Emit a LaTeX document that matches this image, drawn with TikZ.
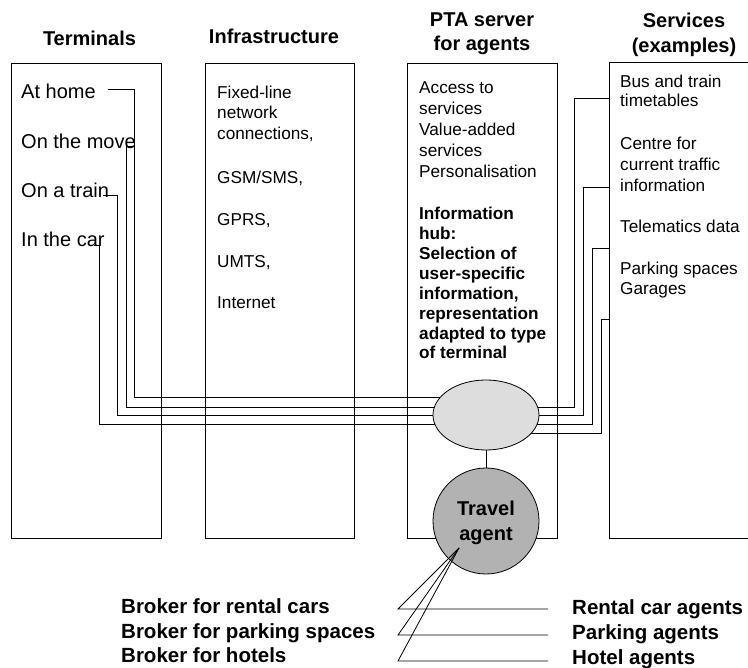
\documentclass[tikz,border=0pt]{standalone}
\usepackage{fontspec}
\setmainfont{Liberation Sans}
\usetikzlibrary{shapes.geometric,backgrounds}
\definecolor{hubgray}{RGB}{221,221,221}
\definecolor{agentgray}{RGB}{178,178,178}
\begin{document}
\begin{tikzpicture}[x=1pt,y=-1pt,
  panel/.style={draw=black, line width=0.9pt, inner sep=0pt},
  wire/.style={draw=black, line width=0.8pt},
  head/.style={font=\fontsize{20}{24}\selectfont\bfseries, anchor=base, inner sep=0pt},
  termtext/.style={font=\fontsize{20}{24}\selectfont, anchor=base west, inner sep=0pt},
  body/.style={font=\fontsize{17.2}{20}\selectfont, anchor=base west, inner sep=0pt},
  bodybf/.style={font=\fontsize{17.2}{20}\selectfont\bfseries, anchor=base west, inner sep=0pt},
  bigbf/.style={font=\fontsize{20.5}{24}\selectfont\bfseries, anchor=base west, inner sep=0pt},
  agentbf/.style={font=\fontsize{20}{24}\selectfont\bfseries, anchor=base, inner sep=0pt},
]
\useasboundingbox (0,0) rectangle (748,668);
\clip (0,0) rectangle (748,668);

% column panels
\node[panel, minimum width=149.5pt, minimum height=475pt] (termbox)  at (86.25,300.5) {};
\node[panel, minimum width=149pt,   minimum height=475pt] (infrabox) at (279.5,300.5) {};
\node[panel, minimum width=150pt,   minimum height=475pt] (ptabox)   at (482,300.5) {};
\node[panel, minimum width=150.5pt, minimum height=476pt] (servbox)  at (684.75,300) {};

% column headings
\node[head] (hTerm)  at (89.5,45.5) {Terminals};
\node[head] (hInfra) at (274,44) {Infrastructure};
\node[head] (hPta1)  at (482,26.5) {PTA server};
\node[head] (hPta2)  at (482,51) {for agents};
\node[head] (hServ1) at (684,28) {Services};
\node[head] (hServ2) at (684,52.5) {(examples)};

% terminals
\node[termtext] (home)  at (21,99)    {At home};
\node[termtext] (move)  at (21,149)   {On the move};
\node[termtext] (train) at (21,197.5) {On a train};
\node[termtext] (car)   at (21,246.5) {In the car};

% infrastructure
\foreach \y/\t [count=\i] in {98.3/{Fixed-line}, 119/{network}, 139.5/{connections,},
    184/{GSM/SMS,}, 226/{GPRS,}, 267.5/{UMTS,}, 309/{Internet}}
  \node[body] (infra-\i) at (217,\y) {\t};

% PTA server
\foreach \y/\t [count=\i] in {94/{Access to}, 115/{services}, 136/{Value-added},
    156.5/{services}, 177.5/{Personalisation}}
  \node[body] (pta-\i) at (419,\y) {\t};
\foreach \y/\t [count=\i] in {220/{Information}, 240/{hub:}, 260/{Selection of},
    280/{user-specific}, 300/{information,}, 319.5/{representation},
    339.5/{adapted to type}, 359/{of terminal}}
  \node[bodybf] (hubtext-\i) at (419,\y) {\t};

% services
\foreach \y/\t [count=\i] in {87.3/{Bus and train}, 106.5/{timetables}, 150/{Centre for},
    171/{current traffic}, 191.5/{information}, 232.5/{Telematics data},
    275/{Parking spaces}, 295/{Garages}}
  \node[body] (serv-\i) at (620,\y) {\t};

% information hub and travel agent
\node[ellipse, draw, line width=0.8pt, fill=hubgray, minimum width=106pt,
      minimum height=70pt, inner sep=0pt] (hub) at (486,415) {};
\node[circle, draw, line width=0.8pt, fill=agentgray, minimum size=106pt,
      inner sep=0pt] (agent) at (486,521) {};
\node[agentbf] (agentT1) at (486,516) {Travel};
\node[agentbf] (agentT2) at (486,540.5) {agent};
\draw[wire] (hub) -- (agent);

% routing points of the terminal and service lines
\coordinate (homeA)  at (108,89);  \coordinate (homeB)  at (134,397);
\coordinate (moveA)  at (134,146); \coordinate (moveB)  at (126,407);
\coordinate (trainA) at (103,195); \coordinate (trainB) at (117,415);
\coordinate (carA)   at (94,245);  \coordinate (carB)   at (99,424);
\coordinate (sA) at (574,407); \coordinate (busIn)     at (609.5,98);
\coordinate (sB) at (583,415); \coordinate (trafficIn) at (609.5,187);
\coordinate (sC) at (592,424); \coordinate (teleIn)    at (609.5,248);
\coordinate (sD) at (601,433); \coordinate (parkIn)    at (609.5,319);

\begin{pgfonlayer}{background}
  \draw[wire] (homeA)  -| (homeB)  -- (homeB -| hub.center);
  \draw[wire] (moveA)  -| (moveB)  -- (moveB -| hub.center);
  \draw[wire] (trainA) -| (trainB) -- (trainB -| hub.center);
  \draw[wire] (carA)   -| (carB)   -- (carB -| hub.center);
  \draw[wire] (sA -| hub.center) -- (sA) |- (busIn);
  \draw[wire] (sB -| hub.center) -- (sB) |- (trafficIn);
  \draw[wire] (sC -| hub.center) -- (sC) |- (teleIn);
  \draw[wire] (sD -| hub.center) -- (sD) |- (parkIn);
\end{pgfonlayer}

% brokers and agents
\coordinate (tip) at (459,548);
\coordinate (rcL) at (398,609); \coordinate (rcR) at (548,609);
\coordinate (pkL) at (398,635); \coordinate (pkR) at (548,635);
\coordinate (htL) at (398,661); \coordinate (htR) at (548,661);
\draw[wire] (tip) -- (rcL) -- (rcR);
\draw[wire] (tip) -- (pkL) -- (pkR);
\draw[wire] (tip) -- (htL) -- (htR);

\node[bigbf] (brokRental)  at (121,613.3) {Broker for rental cars};
\node[bigbf] (brokParking) at (121,638.3) {Broker for parking spaces};
\node[bigbf] (brokHotel)   at (121,662.7) {Broker for hotels};
\node[bigbf] (agRental)  at (572,614) {Rental car agents};
\node[bigbf] (agParking) at (572,639) {Parking agents};
\node[bigbf] (agHotel)   at (572,664) {Hotel agents};
\end{tikzpicture}
\end{document}
